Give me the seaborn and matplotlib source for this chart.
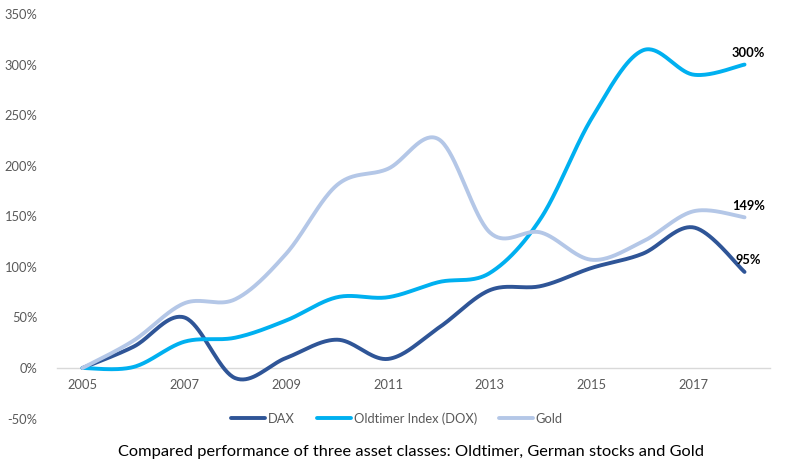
import numpy as np
import pandas as pd
import matplotlib
matplotlib.use("Agg")
import matplotlib.pyplot as plt
import seaborn as sns

years = [2005, 2006, 2007, 2008, 2009, 2010, 2011, 2012, 2013, 2014, 2015, 2016, 2017, 2018]
dax = [0, 21, 50, -10, 10, 28, 9, 40, 77, 81, 99, 113, 139, 95]
oldtimer = [0, 1, 26, 30, 47, 70, 70, 85, 94, 148, 247, 314, 290, 300]
gold = [0, 27, 64, 68, 113, 181, 197, 226, 134, 134, 107, 125, 155, 149]
series_names = ["DAX", "Oldtimer Index (DOX)", "Gold"]
series_values = [dax, oldtimer, gold]
end_labels = ["95%", "300%", "149%"]
x_tick_labels = ["2005", "2007", "2009", "2011", "2013", "2015", "2017"]
title_text = "Compared performance of three asset classes: Oldtimer, German stocks and Gold"

colors = ["#2F5597", "#00B0F0", "#B4C7E7"]


def smooth(xs, ys, n=40):
    """Excel-like smoothed line: Catmull-Rom style cubic Bezier segments."""
    P = np.column_stack([np.asarray(xs, float), np.asarray(ys, float)])
    out = []
    m = len(P)
    t = np.linspace(0, 1, n)[:, None]
    for i in range(m - 1):
        p0 = P[i - 1] if i > 0 else P[i]
        p1 = P[i]
        p2 = P[i + 1]
        p3 = P[i + 2] if i + 2 < m else P[i + 1]
        c1 = p1 + (p2 - p0) / 6.0
        c2 = p2 - (p3 - p1) / 6.0
        seg = ((1 - t) ** 3) * p1 + 3 * ((1 - t) ** 2) * t * c1 + 3 * (1 - t) * t ** 2 * c2 + t ** 3 * p2
        if i > 0:
            seg = seg[1:]
        out.append(seg)
    return np.vstack(out)


rows = []
for name, vals in zip(series_names, series_values):
    curve = smooth(years, vals)
    for k, (xv, yv) in enumerate(curve):
        rows.append({"x": xv, "y": yv, "series": name, "order": k})
df = pd.DataFrame(rows)

sns.set_style("white")
plt.rcParams["font.family"] = ["Lato", "DejaVu Sans"]

fig = plt.figure(figsize=(7.85, 4.72), dpi=100)
ax = fig.add_axes([57 / 785, 1 - 418.6 / 472, 713 / 785, (418.6 - 14) / 472])

sns.lineplot(data=df, x="x", y="y", hue="series", palette=colors, hue_order=series_names,
             sort=False, estimator=None, units="series", linewidth=2.8, legend=False, ax=ax)
for line in ax.lines:
    line.set_solid_capstyle("round")
    line.set_solid_joinstyle("round")

ax.set_xlim(2004.5, 2018.5)
ax.set_ylim(-50, 350)
ax.set_yticks(np.arange(-50, 351, 50))
ax.set_yticklabels([f"{v}%" for v in range(-50, 351, 50)])
ax.set_xticks([int(s) for s in x_tick_labels])
ax.set_xticklabels(x_tick_labels)
ax.set_xlabel("")
ax.set_ylabel("")

for s in ["top", "right", "left"]:
    ax.spines[s].set_visible(False)
ax.spines["bottom"].set_position(("data", 0))
ax.spines["bottom"].set_color("#D9D9D9")
ax.spines["bottom"].set_linewidth(1.0)
ax.spines["bottom"].set_zorder(0)

ax.tick_params(axis="y", length=0, pad=14, labelsize=9.3, labelcolor="#595959")
ax.tick_params(axis="x", length=0, pad=8, labelsize=9.3, labelcolor="#595959")
ax.grid(False)

for name, vals, lab in zip(series_names, series_values, end_labels):
    ax.annotate(lab, xy=(years[-1], vals[-1]), xytext=(3, 4), textcoords="offset points",
                ha="center", va="bottom", fontsize=9.3, fontweight="bold", color="black")

handles = ax.lines[:3]
ax.legend(handles, series_names, loc="center", bbox_to_anchor=(0.477, 0.0), ncol=3,
          frameon=False, fontsize=9.3, handlelength=2.6, handletextpad=0.25,
          columnspacing=1.7, labelcolor="#595959")

fig.text(410.5 / 785, 20 / 472, title_text, ha="center", va="center", fontsize=11.8, color="black")

fig.savefig("out.png", dpi=100)
